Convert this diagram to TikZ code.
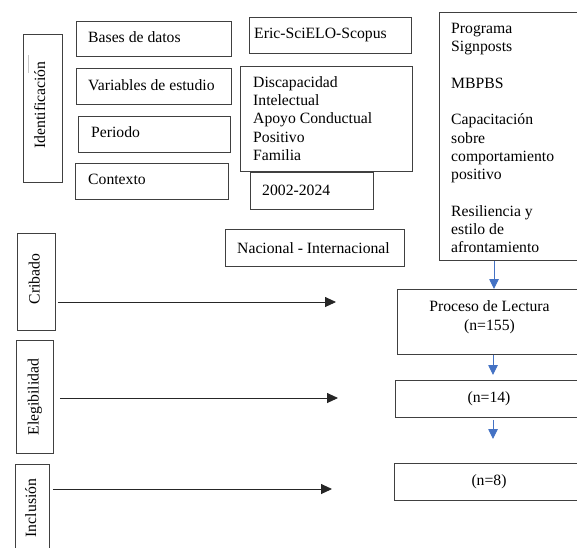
\documentclass[tikz,border=0pt]{standalone}
\usepackage{fontspec}
\setmainfont{Liberation Serif}
\usetikzlibrary{arrows.meta}
\definecolor{boxline}{HTML}{404040}
\definecolor{flowblue}{HTML}{4472C4}
\begin{document}
\begin{tikzpicture}[x=1pt,y=-1pt,
  box/.style={draw=boxline, line width=0.9pt, anchor=north west, inner sep=0pt},
  txt/.style={inner sep=0pt, font=\fontsize{15.7}{18.3}\selectfont, text=black},
  blkarrow/.style={draw=black!85, line width=0.9pt, -{Triangle[length=11pt,width=10pt]}},
  bluearrow/.style={draw=flowblue, line width=0.9pt, -{Triangle[length=10pt,width=9.5pt]}}]
\useasboundingbox (0,0) rectangle (577,547);
\fill[white] (0,0) rectangle (577,547);
\clip (0,0) rectangle (577,547);

% left column stage boxes
\node[box, minimum width=39pt, minimum height=148pt] (ident) at (23,34) {};
\node[box, minimum width=38pt, minimum height=97pt] (cribado) at (17,233) {};
\node[box, minimum width=37pt, minimum height=113pt] (eleg) at (16,340) {};
\node[box, minimum width=34pt, minimum height=90pt] (inclusion) at (15,464) {};
\node[txt, rotate=90, anchor=base] (identt) at (45,105) {Identificación};
\node[txt, rotate=90, anchor=base] (cribadot) at (39.5,279) {Cribado};
\node[txt, rotate=90, anchor=base] (elegt) at (38.5,397) {Elegibilidad};
\node[txt, rotate=90, anchor=base] (inclusiont) at (36,508) {Inclusión};
\draw[gray!45, line width=0.6pt] (28.5,55) -- (28.5,73);

% identification boxes
\node[box, minimum width=155pt, minimum height=35pt] (bases) at (76,21) {};
\node[box, minimum width=155pt, minimum height=36pt] (variables) at (76,68) {};
\node[box, minimum width=152pt, minimum height=36pt] (periodo) at (78,116) {};
\node[box, minimum width=153pt, minimum height=36pt] (contexto) at (75,163) {};
\node[txt, anchor=base west] (basest) at (88,42) {Bases de datos};
\node[txt, anchor=base west] (variablest) at (88,90) {Variables de estudio};
\node[txt, anchor=base west] (periodot) at (91,137) {Periodo};
\node[txt, anchor=base west] (contextot) at (88,184) {Contexto};

\node[box, minimum width=162pt, minimum height=36pt] (eric) at (249,17) {};
\node[box, minimum width=172pt, minimum height=105pt] (discap) at (240,66) {};
\node[box, minimum width=123pt, minimum height=37pt] (periodv) at (250,172) {};
\node[box, minimum width=179pt, minimum height=37pt] (nacional) at (225,229) {};
\node[txt, anchor=base west] (erict) at (254,38) {Eric-SciELO-Scopus};
\node[txt, anchor=north west, align=left] (discapt) at (253,74.2)
  {\strut Discapacidad\\Intelectual\\Apoyo Conductual\\Positivo\\Familia};
\node[txt, anchor=base west] (periodvt) at (262,195) {2002-2024};
\node[txt, anchor=base west] (nacionalt) at (237,253) {Nacional - Internacional};

% right column
\node[box, minimum width=143pt, minimum height=248pt] (programa) at (439,12) {};
\node[txt, anchor=north west, align=left] (programat) at (451,20.2)
  {\strut Programa\\Signposts\\[18.3pt]MBPBS\\[18.3pt]Capacitación\\sobre\\comportamiento\\positivo\\[18.3pt]Resiliencia y\\estilo de\\afrontamiento};

\node[box, minimum width=185pt, minimum height=65pt] (proceso) at (397,289) {};
\node[box, minimum width=187pt, minimum height=37pt] (n14) at (395,380) {};
\node[box, minimum width=188pt, minimum height=37pt] (n8) at (394,463) {};
\node[txt, anchor=north, align=center] (procesot) at (489.5,298.9) {\strut Proceso de Lectura\\(n=155)};
\node[txt, anchor=base] (n14t) at (489,402.2) {(n=14)};
\node[txt, anchor=base] (n8t) at (489,485.6) {(n=8)};

% black arrows
\coordinate (c1) at (336,302);
\coordinate (c2) at (338,398);
\coordinate (c3) at (332,489);
\draw[blkarrow, shorten <=2pt] (cribado.east |- c1) -- (c1);
\draw[blkarrow, shorten <=6pt] (eleg.east |- c2) -- (c2);
\draw[blkarrow, shorten <=3pt] (inclusion.east |- c3) -- (c3);

% blue arrows
\coordinate (b1) at (494,289);
\coordinate (b2) at (493,375);
\coordinate (b3) at (493,439);
\draw[bluearrow] (programa.south -| b1) -- (proceso.north -| b1);
\draw[bluearrow] (proceso.south -| b2) -- (b2);
\draw[bluearrow, shorten <=2pt] (n14.south -| b3) -- (b3);
\end{tikzpicture}
\end{document}
